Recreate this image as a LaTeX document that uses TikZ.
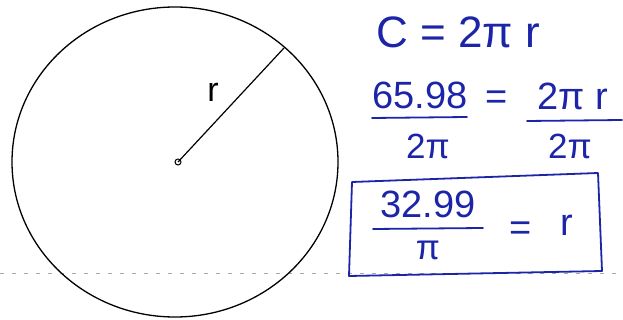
\documentclass[tikz,border=0pt]{standalone}
\usepackage{fontspec}
\setmainfont{Liberation Sans}
\definecolor{pen}{RGB}{28,36,168}
\tikzset{
  ink/.style={text=pen,inner sep=0pt,font=\fontsize{38}{40}\selectfont},
  small ink/.style={ink,font=\fontsize{35}{36}\selectfont},
  fracbar/.style={pen,line width=1.8pt,line cap=round},
}
\begin{document}
\begin{tikzpicture}[x=1pt,y=-1pt]
      \useasboundingbox (0,0) rectangle (623,320);

      % ruled line of the paper
      \draw[gray!70,line width=1pt,dash pattern=on 4pt off 8pt] (0,273) -- (623,273);

      % circle and radius
      \draw[line width=1.3pt] (175,162) ellipse [x radius=163,y radius=155];
      \coordinate (O) at (178,162);
      \coordinate (P) at (284,48);
      \draw[line width=1.2pt] (O) -- (P);
      \draw[line width=1pt] (O) circle (3);
      \node[inner sep=0pt,font=\fontsize{34}{36}\selectfont] (rlabel) at (213,92) {r};

      % C = 2 pi r
      \node[ink,font=\fontsize{44}{46}\selectfont] (circum) at (458,32) {C = 2π r};

      % 65.98 / 2pi = 2 pi r / 2pi
      \node[ink] (numA) at (420,95) {65.98};
      \draw[fracbar] (372,118) -- (467,117);
      \node[small ink] (denA) at (428,146) {2π};
      \node[ink] (eqA) at (497,100) {=};
      \node[ink] (numB) at (573,96) {2π r};
      \draw[fracbar] (527,121) -- (622,120);
      \node[small ink] (denB) at (570,146) {2π};

      % answer box
      \draw[pen,line width=1.8pt,line join=round]
        (352,182) -- (598,173) -- (602,271) -- (349,276) -- cycle;
      \node[ink] (numC) at (428,204) {32.99};
      \draw[fracbar] (373,229) -- (483,228);
      \node[small ink] (denC) at (428,250) {π};
      \node[ink] (eqC) at (521,231) {=};
      \node[ink] (rC) at (567,225) {r};
    \end{tikzpicture}
\end{document}
